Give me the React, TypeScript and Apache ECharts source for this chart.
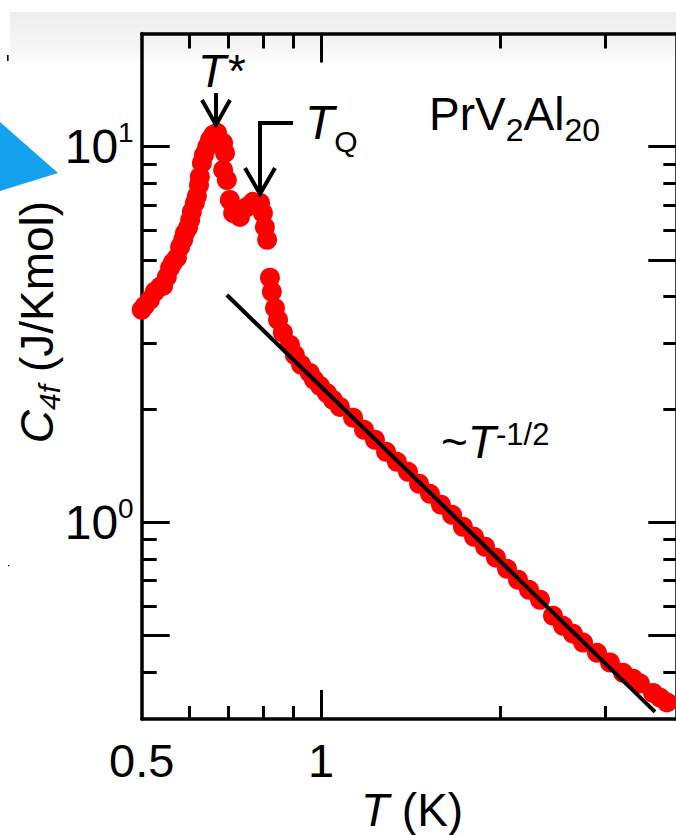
import React, { useEffect, useRef } from "react";
import * as echarts from "echarts";

// Temperature T (K) of each measured point
const tempK = [
  0.5, 0.506, 0.516, 0.526, 0.537, 0.543, 0.551, 0.558, 0.564, 0.573,
  0.58, 0.587, 0.591, 0.598, 0.603, 0.607, 0.614, 0.619, 0.624, 0.626,
  0.631, 0.636, 0.644, 0.651, 0.659, 0.669, 0.685, 0.69, 0.685, 0.695,
  0.703, 0.712, 0.731, 0.751, 0.769, 0.79, 0.799, 0.805, 0.812, 0.821,
  0.827, 0.837, 0.847, 0.863, 0.887, 0.904, 0.926, 0.958, 0.973, 0.996,
  1.023, 1.047, 1.076, 1.132, 1.181, 1.232, 1.286, 1.341, 1.4, 1.461,
  1.524, 1.59, 1.66, 1.731, 1.807, 1.886, 1.967, 2.053, 2.142, 2.235,
  2.332, 2.452, 2.549, 2.649, 2.754, 2.907, 3.056, 3.215, 3.342, 3.432,
  3.61, 3.709, 3.81,
];
// C_4f (J/Kmol) of each measured point
const c4f = [
  3.68, 3.77, 3.91, 4.11, 4.24, 4.26, 4.5, 4.76, 4.91, 5.06,
  5.41, 5.65, 5.89, 6.08, 6.38, 6.71, 7.08, 7.39, 7.91, 8.31,
  9.05, 9.5, 9.98, 10.42, 10.74, 10.88, 10.23, 9.62, 8.67, 8.15,
  7.21, 6.66, 6.5, 6.91, 7.13, 7.08, 6.66, 6.11, 5.65, 4.48,
  4.11, 3.72, 3.46, 3.2, 2.97, 2.79, 2.63, 2.5, 2.4, 2.31,
  2.21, 2.12, 2.03, 1.9, 1.764, 1.66, 1.542, 1.45, 1.364, 1.268,
  1.192, 1.115, 1.048, 0.974, 0.916, 0.862, 0.806, 0.753, 0.704, 0.662,
  0.623, 0.565, 0.531, 0.506, 0.479, 0.45, 0.424, 0.398, 0.384, 0.373,
  0.352, 0.342, 0.332,
];
// Guide line ~T^-1/2 (two end points)
const fitT = [0.695, 3.638];
const fitC = [4.03, 0.3135];

// Axis ranges and ticks
const xRange = [0.5, 3.95];
const yRange = [0.3, 20];
const xLabelValues = [0.5, 1];
const xMajorTicks = [1];
const xMinorTicks = [0.6, 0.7, 0.8, 0.9, 2, 3];
const yLabelValues = [1, 10];
const yLeftMajorTicks = [0.5, 1, 10];
const yLeftMinorTicks = [0.4, 0.6, 0.7, 0.8, 0.9, 2, 3, 4, 5, 6, 7, 8, 9];
const yRightMajorTicks = [0.5, 1, 5, 10];
const yRightMinorTicks = [0.4, 0.6, 0.7, 0.8, 0.9, 2, 3, 4, 6, 7, 8, 9];

const FONT = "'Liberation Sans', Arial, Helvetica, sans-serif";
const lg = (v: number) => Math.log10(v);

function xAxis(position: string, ticks: number[], len: number, showLine: boolean, labels?: number[]) {
  return {
    type: "value",
    gridIndex: 0,
    position,
    min: lg(xRange[0]),
    max: lg(xRange[1]),
    splitLine: { show: false },
    axisLine: { show: showLine, onZero: false, lineStyle: { color: "#000", width: 3.5 } },
    axisTick: {
      show: true,
      inside: true,
      length: len,
      customValues: ticks.map(lg),
      lineStyle: { color: "#000", width: 3 },
    },
    axisLabel: labels
      ? {
          show: true,
          customValues: labels.map(lg),
          margin: 18,
          color: "#000",
          fontSize: 47,
          fontFamily: FONT,
          formatter: (v: number) => String(+Math.pow(10, v).toPrecision(3)),
        }
      : { show: false },
  };
}

function yAxis(position: string, ticks: number[], len: number, showLine: boolean, labels?: number[]) {
  return {
    type: "value",
    gridIndex: 0,
    position,
    min: lg(yRange[0]),
    max: lg(yRange[1]),
    splitLine: { show: false },
    axisLine: { show: showLine, onZero: false, lineStyle: { color: "#000", width: 3.5 } },
    axisTick: {
      show: true,
      inside: true,
      length: len,
      customValues: ticks.map(lg),
      lineStyle: { color: "#000", width: 3 },
    },
    axisLabel: labels
      ? {
          show: true,
          customValues: labels.map(lg),
          margin: 8,
          color: "#000",
          formatter: (v: number) => "{b|10}{s|" + Math.round(v) + "}",
          rich: {
            b: { fontSize: 48, lineHeight: 56, fontFamily: FONT, color: "#000" },
            s: { fontSize: 28, lineHeight: 28, fontFamily: FONT, color: "#000", verticalAlign: "top" },
          },
        }
      : { show: false },
  };
}

export default function App() {
  const ref = useRef<HTMLDivElement>(null);
  useEffect(() => {
    if (!ref.current) return;
    const chart = echarts.init(ref.current, null, { renderer: "svg" });
    const txt = (extra: any) => ({ fontFamily: FONT, fill: "#000", ...extra });
    const option: any = {
      animation: false,
      backgroundColor: "#ffffff",
      textStyle: { fontFamily: FONT },
      grid: { left: 141.7, top: 33.5, width: 534.6, height: 685.5, containLabel: false, outerBoundsMode: "none" },
      xAxis: [
        xAxis("bottom", xMajorTicks, 29, true, xLabelValues),
        xAxis("bottom", xMinorTicks, 13, false),
        xAxis("top", xMajorTicks, 29, true),
        xAxis("top", xMinorTicks, 15, false),
      ],
      yAxis: [
        yAxis("left", yLeftMajorTicks, 28, true, yLabelValues),
        yAxis("left", yLeftMinorTicks, 15, false),
        yAxis("right", yRightMajorTicks, 28, true),
        yAxis("right", yRightMinorTicks, 13, false),
      ],
      series: [
        {
          type: "scatter",
          xAxisIndex: 0,
          yAxisIndex: 0,
          clip: false,
          symbol: "circle",
          symbolSize: 20,
          itemStyle: { color: "#ff0000", opacity: 1 },
          data: tempK.map((t, i) => [lg(t), lg(c4f[i])]),
          z: 3,
        },
        {
          type: "line",
          xAxisIndex: 0,
          yAxisIndex: 0,
          symbol: "none",
          lineStyle: { color: "#000", width: 4 },
          data: fitT.map((t, i) => [lg(t), lg(fitC[i])]),
          z: 5,
        },
      ],
      graphic: [
        {
          type: "rect",
          z: -10,
          silent: true,
          shape: { x: 10, y: 12, width: 666, height: 55 },
          style: {
            fill: {
              type: "linear", x: 0, y: 0, x2: 0, y2: 1,
              colorStops: [
                { offset: 0, color: "#eceeec" },
                { offset: 0.6, color: "#f4f5f4" },
                { offset: 1, color: "#ffffff" },
              ],
            },
          },
        },
        {
          type: "polygon",
          z: 10,
          shape: { points: [[0, 122], [58, 173], [0, 191]] },
          style: { fill: "#14a2ef" },
        },
        { type: "rect", z: 10, shape: { x: 7, y: 55, width: 1.6, height: 6 }, style: { fill: "#000" } },
        { type: "rect", z: 10, shape: { x: 8, y: 565, width: 1.2, height: 1.2 }, style: { fill: "#000" } },
        // T* label and arrow
        {
          type: "text", z: 20, x: 198, y: 71,
          style: txt({ text: "T*", fontSize: 46, fontStyle: "italic", align: "left", verticalAlign: "middle" }),
        },
        { type: "line", z: 20, shape: { x1: 216, y1: 93, x2: 216, y2: 123 }, style: { stroke: "#000", lineWidth: 4 } },
        {
          type: "polyline", z: 20,
          shape: { points: [[202, 100], [216, 125], [230, 100]] },
          style: { stroke: "#000", lineWidth: 4, fill: null },
        },
        // T_Q label and bent arrow
        {
          type: "text", z: 20, x: 305, y: 122.5,
          style: txt({
            text: "{t|T}{q|Q}", align: "left", verticalAlign: "middle",
            rich: {
              t: { fontSize: 48, fontStyle: "italic", lineHeight: 67, fontFamily: FONT, fill: "#000" },
              q: { fontSize: 30, lineHeight: 30, verticalAlign: "bottom", fontFamily: FONT, fill: "#000" },
            },
          }),
        },
        {
          type: "polyline", z: 20,
          shape: { points: [[293, 123], [260, 123], [260, 192]] },
          style: { stroke: "#000", lineWidth: 4, fill: null },
        },
        {
          type: "polyline", z: 20,
          shape: { points: [[245, 168], [260, 194], [275, 168]] },
          style: { stroke: "#000", lineWidth: 4, fill: null },
        },
        // Compound
        {
          type: "text", z: 20, x: 429, y: 113.5,
          style: txt({
            text: "{m|PrV}{s|2}{m|Al}{s|20}", align: "left", verticalAlign: "middle",
            rich: {
              m: { fontSize: 46, lineHeight: 64, fontFamily: FONT, fill: "#000" },
              s: { fontSize: 32, lineHeight: 32, verticalAlign: "bottom", fontFamily: FONT, fill: "#000" },
            },
          }),
        },
        // ~T^-1/2
        {
          type: "text", z: 20, x: 441, y: 441.5,
          style: txt({
            text: "{m|~}{t|T}{s|-1/2}", align: "left", verticalAlign: "middle",
            rich: {
              m: { fontSize: 46, lineHeight: 46, fontFamily: FONT, fill: "#000" },
              t: { fontSize: 46, lineHeight: 46, fontStyle: "italic", fontFamily: FONT, fill: "#000" },
              s: { fontSize: 31, lineHeight: 36, verticalAlign: "top", fontFamily: FONT, fill: "#000" },
            },
          }),
        },
        // X axis title
        {
          type: "text", z: 20, x: 361, y: 810,
          style: txt({
            text: "{t|T}{n| (K)}", align: "left", verticalAlign: "middle",
            rich: {
              t: { fontSize: 46, fontStyle: "italic", lineHeight: 50, fontFamily: FONT, fill: "#000" },
              n: { fontSize: 46, lineHeight: 50, fontFamily: FONT, fill: "#000" },
            },
          }),
        },
        // Y axis title
        {
          type: "text", z: 20, x: 36.5, y: 322, rotation: Math.PI / 2,
          style: txt({
            text: "{c|C}{s|4f}{n| (J/Kmol)}", align: "center", verticalAlign: "middle",
            rich: {
              c: { fontSize: 46, fontStyle: "italic", lineHeight: 55, fontFamily: FONT, fill: "#000" },
              s: { fontSize: 30, fontStyle: "italic", lineHeight: 30, verticalAlign: "bottom", fontFamily: FONT, fill: "#000" },
              n: { fontSize: 46, lineHeight: 55, fontFamily: FONT, fill: "#000" },
            },
          }),
        },
      ],
    };
    chart.setOption(option);
    return () => chart.dispose();
  }, []);
  return (
    <div
      ref={ref}
      style={{ position: "fixed", left: 0, top: 0, width: 676, height: 835, background: "#fff" }}
    />
  );
}
